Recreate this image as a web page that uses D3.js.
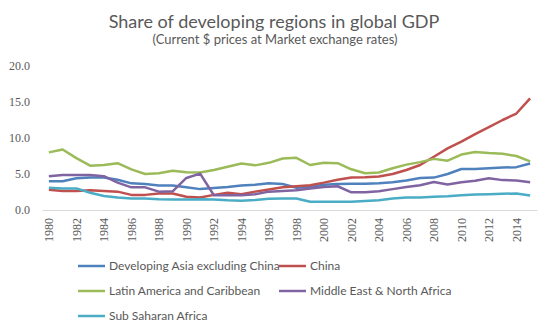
<!DOCTYPE html>
<html>
<head>
<meta charset="utf-8">
<script src="https://cdn.jsdelivr.net/npm/d3@7"></script>
<style>
  body { margin: 0; background: #fff; }
  svg { display: block; }
</style>
</head>
<body>
<svg id="chart"></svg>
<script>
// years on the category axis
const years = d3.range(1980, 2016)

// share of global GDP, %
const devAsia = [4.0, 4.0, 4.4, 4.5, 4.5, 4.2, 3.7, 3.6, 3.4, 3.4, 3.15, 2.9, 3.05, 3.2, 3.4, 3.5, 3.7, 3.6, 3.1, 3.2,
    3.5, 3.6, 3.65, 3.65, 3.7, 3.85, 4.1, 4.45, 4.5, 5.0, 5.7, 5.7, 5.8, 5.9, 5.95, 6.45]
const china = [2.8, 2.65, 2.65, 2.75, 2.65, 2.55, 2.1, 2.1, 2.3, 2.3, 1.85, 1.75, 2.1, 2.4, 2.2, 2.55, 2.85, 3.15, 3.3, 3.45,
    3.8, 4.2, 4.5, 4.55, 4.65, 5.0, 5.55, 6.25, 7.4, 8.55, 9.5, 10.55, 11.5, 12.5, 13.4, 15.5]
const latAm = [8.0, 8.4, 7.2, 6.15, 6.25, 6.5, 5.65, 5.0, 5.1, 5.45, 5.25, 5.2, 5.55, 6.0, 6.45, 6.2, 6.55, 7.15, 7.25, 6.25,
    6.55, 6.5, 5.65, 5.1, 5.2, 5.8, 6.3, 6.65, 7.1, 6.85, 7.7, 8.05, 7.9, 7.8, 7.5, 6.75]
const meNa = [4.7, 4.85, 4.85, 4.85, 4.7, 3.8, 3.15, 3.15, 2.55, 2.6, 4.45, 5.05, 2.05, 2.05, 2.05, 2.2, 2.55, 2.65, 2.75, 3.0,
    3.2, 3.3, 2.45, 2.45, 2.6, 2.9, 3.2, 3.45, 3.9, 3.55, 3.85, 4.05, 4.4, 4.15, 4.1, 3.85]
const ssa = [3.1, 3.0, 3.0, 2.4, 1.95, 1.75, 1.6, 1.6, 1.5, 1.45, 1.45, 1.5, 1.45, 1.35, 1.3, 1.4, 1.55, 1.6, 1.6, 1.15,
    1.15, 1.15, 1.15, 1.25, 1.35, 1.6, 1.72, 1.75, 1.85, 1.9, 2.05, 2.15, 2.2, 2.25, 2.3, 2.0]

const seriesNames = ["Developing Asia excluding China", "China", "Latin America and Caribbean",
    "Middle East & North Africa", "Sub Saharan Africa"]
const seriesValues = [devAsia, china, latAm, meNa, ssa]
const colors = ["#4f81bd", "#c0504d", "#9bbb59", "#8064a2", "#4bacc6"]
const yTicks = [0, 5, 10, 15, 20]

const width = 550, height = 330

const svg = d3.select("#chart")
    .attr("width", width)
    .attr("height", height)

svg.append("text")
    .attr("x", 274).attr("y", 28)
    .attr("text-anchor", "middle")
    .style("font-family", "Lato, sans-serif")
    .style("font-size", "18px")
    .style("fill", "#595959")
    .text("Share of developing regions in global GDP")

svg.append("text")
    .attr("x", 275).attr("y", 44)
    .attr("text-anchor", "middle")
    .style("font-family", "Lato, sans-serif")
    .style("font-size", "13px")
    .style("fill", "#595959")
    .text("(Current $ prices at Market exchange rates)")

var x = d3.scaleBand()
    .domain(years)
    .range([42, 537])

var y = d3.scaleLinear()
    .domain([0, 20])
    .range([210, 66])

var xc = d => x(d) + x.bandwidth() / 2

// y axis: labels only
var yAxis = svg.append("g")
    .attr("transform", "translate(30,0)")
    .call(d3.axisLeft(y).tickValues(yTicks).tickFormat(d3.format(".1f")).tickSize(0))
yAxis.select(".domain").remove()
yAxis.selectAll("text")
    .attr("x", 0)
    .style("font-family", "'Liberation Serif', 'DejaVu Serif', serif")
    .style("font-size", "12px")
    .style("fill", "#595959")

// x axis
var xAxis = svg.append("g")
    .attr("transform", "translate(0,210)")
    .call(d3.axisBottom(x).tickValues(years.filter(d => d % 2 == 0)).tickSize(0))
xAxis.select(".domain").attr("stroke", "#d9d9d9")
xAxis.selectAll("text")
    .attr("transform", "rotate(-90)")
    .attr("text-anchor", "end")
    .attr("x", -8)
    .attr("y", 0)
    .attr("dy", "0.35em")
    .style("font-family", "'Liberation Serif', 'DejaVu Serif', serif")
    .style("font-size", "12px")
    .style("fill", "#595959")

var line = d3.line()
    .x((d, i) => xc(years[i]))
    .y(d => y(d))

svg.append("g").selectAll("path")
    .data(seriesValues)
    .enter()
    .append("path")
    .attr("d", d => line(d))
    .attr("fill", "none")
    .attr("stroke", (d, i) => colors[i])
    .attr("stroke-width", 2.5)
    .attr("stroke-linejoin", "round")

// legend
const legendPos = [[78, 266], [279, 266], [78, 291], [279, 291], [78, 316]]
var leg = svg.append("g").selectAll("g")
    .data(seriesNames)
    .enter()
    .append("g")
    .attr("transform", (d, i) => "translate(" + legendPos[i][0] + "," + legendPos[i][1] + ")")

leg.append("line")
    .attr("x1", 0).attr("x2", 27)
    .attr("stroke", (d, i) => colors[i])
    .attr("stroke-width", 2.5)

leg.append("text")
    .attr("x", 31)
    .attr("dy", "0.35em")
    .style("font-family", "Lato, sans-serif")
    .style("font-size", "12px")
    .style("fill", "#595959")
    .text(d => d)
</script>
</body>
</html>
